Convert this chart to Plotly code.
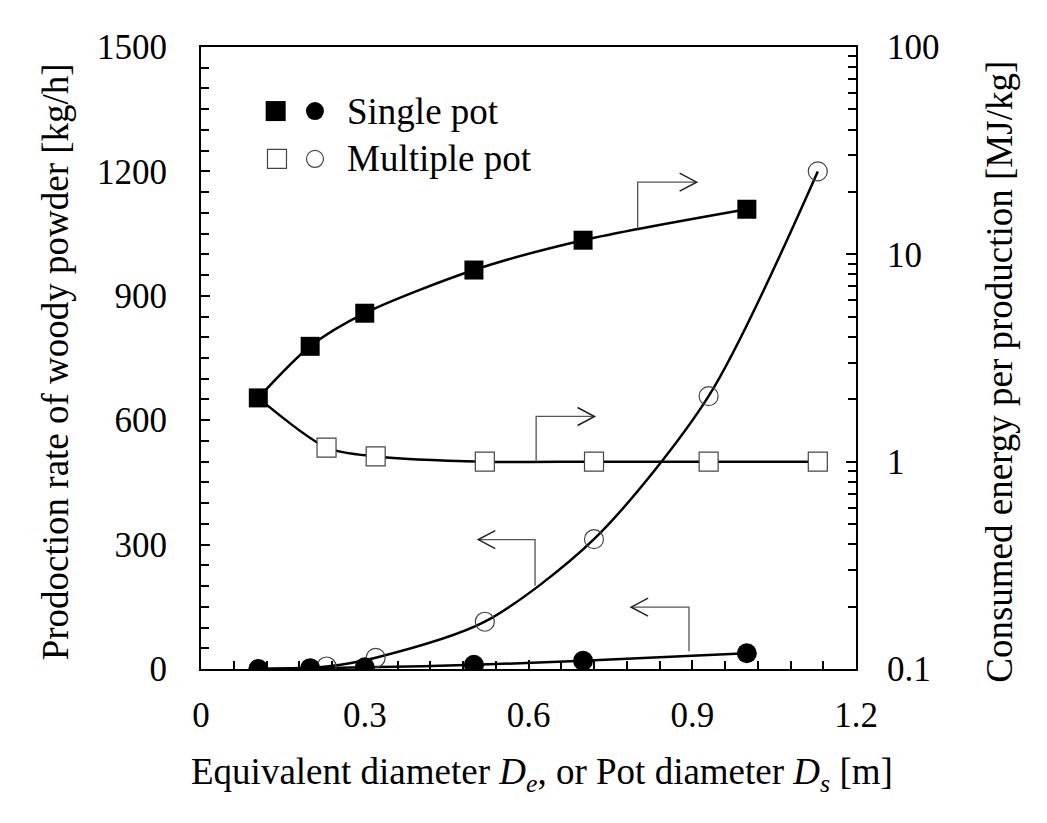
import plotly.graph_objects as go

single_x = [0.105, 0.2, 0.3, 0.5, 0.7, 1.0]
single_rate = [0, 2, 4, 10, 20, 38]          # kg/h, left axis
single_energy = [2.03, 3.6, 5.2, 8.4, 11.7, 16.5]   # MJ/kg, right axis

multi_x = [0.23, 0.32, 0.52, 0.72, 0.93, 1.13]
multi_rate = [6, 27, 114, 313, 658, 1200]
multi_energy = [1.17, 1.06, 1.0, 1.0, 1.0, 1.0]

legend_labels = ['Single pot', 'Multiple pot']

FONT = 'Liberation Serif'
INK = '#000000'
GREY = '#444444'

# plot box size in px, used to size the little arrow heads
W, H = 1047, 823
L, R, T, B = 193, 199, 39, 162
X_PER_PX = 1.2 / (W - L - R)
Y_PER_PX = 1500 / (H - T - B)

fig = go.Figure()

# multiple-pot curves start from the single-pot point at the smallest size
mx_line = [single_x[0]] + multi_x
fig.add_trace(go.Scatter(x=mx_line, y=[single_rate[0]] + multi_rate, mode='lines',
                         line=dict(color=INK, width=2.5, shape='spline', smoothing=0.8)))
fig.add_trace(go.Scatter(x=single_x, y=single_rate, mode='lines',
                         line=dict(color=INK, width=2.5, shape='spline', smoothing=0.8)))
fig.add_trace(go.Scatter(x=multi_x, y=multi_rate, mode='markers',
                         marker=dict(symbol='circle', size=19, color='rgba(0,0,0,0)', opacity=1,
                                     line=dict(color=GREY, width=1.2))))
fig.add_trace(go.Scatter(x=single_x, y=single_rate, mode='markers',
                         marker=dict(symbol='circle', size=20, color=INK, opacity=1)))

fig.add_trace(go.Scatter(x=mx_line, y=[single_energy[0]] + multi_energy, mode='lines', yaxis='y2',
                         line=dict(color=INK, width=2.5, shape='spline', smoothing=0.8)))
fig.add_trace(go.Scatter(x=single_x, y=single_energy, mode='lines', yaxis='y2',
                         line=dict(color=INK, width=2.5, shape='spline', smoothing=0.8)))
fig.add_trace(go.Scatter(x=multi_x, y=multi_energy, mode='markers', yaxis='y2',
                         marker=dict(symbol='square', size=19, color='white', opacity=1,
                                     line=dict(color=GREY, width=1.2))))
fig.add_trace(go.Scatter(x=single_x, y=single_energy, mode='markers', yaxis='y2',
                         marker=dict(symbol='square', size=19, color=INK, opacity=1)))

# hand-made legend: two markers per entry
leg_y = [0.897, 0.82]
fig.add_trace(go.Scatter(x=[0.114, 0.174], y=[leg_y[0]] * 2, mode='markers', xaxis='x3', yaxis='y3',
                         marker=dict(symbol=['square', 'circle'], size=[20, 18], color=INK, opacity=1,
                                     line=dict(width=0))))
fig.add_trace(go.Scatter(x=[0.116, 0.174], y=[leg_y[1]] * 2, mode='markers', xaxis='x3', yaxis='y3',
                         marker=dict(symbol=['square', 'circle'], size=[19, 17], color='white', opacity=1,
                                     line=dict(color=GREY, width=1.2))))
for lab, yy in zip(legend_labels, leg_y):
    fig.add_annotation(x=0.22, y=yy, xref='x3', yref='y3', text=lab, showarrow=False,
                       xanchor='left', yanchor='middle', font=dict(family=FONT, size=37, color=INK))

# elbow arrows: stem x, stem bottom, stem top (left-axis units), arrow tip x
arrows = [
    (0.800, 1062, 1174, 0.908),
    (0.614, 500, 609, 0.721),
    (0.612, 201, 312, 0.508),
    (0.894, 43, 149, 0.788),
]
hx, hy = 17 * X_PER_PX, 9 * Y_PER_PX
for sx, y0, y1, tip in arrows:
    d = 1 if tip > sx else -1
    fig.add_shape(type='path', xref='x', yref='y',
                  path=f'M{sx},{y0} L{sx},{y1} L{tip},{y1}',
                  line=dict(color='#555555', width=1.3))
    fig.add_shape(type='path', xref='x', yref='y',
                  path=f'M{tip - d * hx},{y1 + hy} L{tip},{y1} L{tip - d * hx},{y1 - hy}',
                  line=dict(color='#222222', width=1.5))

tick_font = dict(family=FONT, size=35, color=INK)
title_font = dict(family=FONT, size=37, color=INK)

fig.add_annotation(x=0.52, y=-0.169, xref='paper', yref='paper', showarrow=False,
                   text='Equivalent diameter <i>D</i><sub><i>e</i></sub>, or Pot diameter <i>D</i><sub><i>s</i></sub> [m]',
                   font=title_font, xanchor='center', yanchor='middle')
fig.add_annotation(x=-0.222, y=0.494, xref='paper', yref='paper', showarrow=False, textangle=-90,
                   text='Prodoction rate of woody powder [kg/h]',
                   font=title_font, xanchor='center', yanchor='middle')
fig.add_annotation(x=1.22, y=0.478, xref='paper', yref='paper', showarrow=False, textangle=-90,
                   text='Consumed energy per production [MJ/kg]',
                   font=title_font, xanchor='center', yanchor='middle')

fig.update_layout(
    width=W, height=H,
    margin=dict(l=L, r=R, t=T, b=B),
    paper_bgcolor='white', plot_bgcolor='white',
    showlegend=False,
    font=dict(family=FONT, color=INK),
    xaxis=dict(range=[0, 1.2], dtick=0.3, tick0=0, showgrid=False, zeroline=False,
               showline=True, linecolor=INK, linewidth=2, mirror=True,
               ticks='inside', ticklen=9, tickwidth=2, tickcolor=INK,
               minor=dict(ticks='inside', dtick=0.06, ticklen=8, tickwidth=2, tickcolor=INK),
               tickfont=tick_font, ticklabelstandoff=14),
    yaxis=dict(range=[0, 1500], dtick=300, showgrid=False, zeroline=False,
               showline=True, linecolor=INK, linewidth=2,
               ticks='inside', ticklen=9, tickwidth=2, tickcolor=INK,
               minor=dict(ticks='inside', dtick=50, ticklen=8, tickwidth=2, tickcolor=INK),
               tickfont=tick_font, ticklabelstandoff=25),
    yaxis2=dict(type='log', range=[-1, 2], dtick=1, overlaying='y', side='right',
                showgrid=False, zeroline=False, showline=True, linecolor=INK, linewidth=2,
                ticks='inside', ticklen=10, tickwidth=2, tickcolor=INK,
                minor=dict(ticks='inside', ticklen=8, tickwidth=2, tickcolor=INK, dtick='D1'),
                tickfont=tick_font, ticklabelstandoff=22, exponentformat='none'),
    xaxis3=dict(range=[0, 1], overlaying='x', anchor='y3', visible=False),
    yaxis3=dict(range=[0, 1], overlaying='y', anchor='x3', visible=False),
)

fig.write_html('out.html')
